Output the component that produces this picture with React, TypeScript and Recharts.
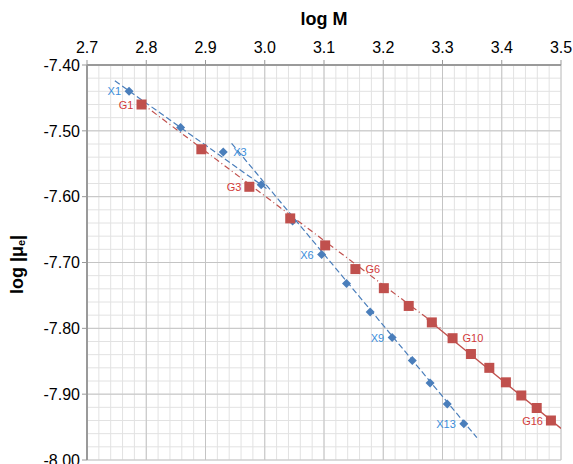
import React from "react"
import {
  ScatterChart,
  Scatter,
  XAxis,
  YAxis,
  CartesianGrid,
  LabelList,
} from "recharts"

// X series (blue diamonds): log M, log |mu_e|
const xSeriesM = [2.771, 2.858, 2.930, 2.994, 3.047, 3.096, 3.138, 3.178, 3.215, 3.249, 3.279, 3.308, 3.336]
const xSeriesMu = [-7.440, -7.495, -7.532, -7.582, -7.637, -7.688, -7.732, -7.775, -7.814, -7.849, -7.883, -7.915, -7.945]

// G series (red squares)
const gSeriesM = [2.792, 2.893, 2.974, 3.043, 3.102, 3.153, 3.201, 3.243, 3.282, 3.317, 3.348, 3.379, 3.407, 3.433, 3.459, 3.483]
const gSeriesMu = [-7.460, -7.528, -7.585, -7.633, -7.674, -7.710, -7.739, -7.766, -7.791, -7.815, -7.839, -7.860, -7.882, -7.902, -7.921, -7.940]

// fitted lines (end points)
const fitXLow = [{ x: 2.747, y: -7.424 }, { x: 3.005, y: -7.589 }]
const fitXHigh = [{ x: 2.944, y: -7.519 }, { x: 3.358, y: -7.966 }]
const fitGLow = [{ x: 2.792, y: -7.458 }, { x: 3.300, y: -7.802 }]
const fitGHigh = [{ x: 3.273, y: -7.785 }, { x: 3.500, y: -7.952 }]

// which points get a name, and on which side
const xLabels: Record<number, "left" | "right"> = { 0: "left", 2: "right", 5: "left", 8: "left", 12: "left" }
const gLabels: Record<number, "left" | "right"> = { 0: "left", 2: "left", 5: "right", 9: "right", 15: "left" }

const xTicks = [2.7, 2.8, 2.9, 3.0, 3.1, 3.2, 3.3, 3.4, 3.5]
const yTicks = [-8.0, -7.9, -7.8, -7.7, -7.6, -7.5, -7.4]
const xMinor = Array.from({ length: 41 }, (_, i) => 2.7 + i * 0.02)
const yMinor = Array.from({ length: 31 }, (_, i) => -8 + i * 0.02)

const BLUE = "#4a7ebb"
const RED = "#c0504d"
const BLUE_TEXT = "#3b8edb"
const RED_TEXT = "#d23a3a"
const FONT = "'Liberation Sans', Arial, sans-serif"

const xData = xSeriesM.map((m, i) => ({ x: m, y: xSeriesMu[i], name: `X${i + 1}` }))
const gData = gSeriesM.map((m, i) => ({ x: m, y: gSeriesMu[i], name: `G${i + 1}` }))

const Diamond = (props: any) => {
  const { cx, cy } = props
  const r = 4.5
  return <polygon points={`${cx},${cy - r} ${cx + r},${cy} ${cx},${cy + r} ${cx - r},${cy}`} fill={BLUE} />
}

const Square = (props: any) => {
  const { cx, cy } = props
  return <rect x={cx - 5} y={cy - 5} width={10} height={10} fill={RED} />
}

const NoDot = () => <g />

const makeLabel = (sides: Record<number, "left" | "right">, color: string, dy: number) => (props: any) => {
  const { x, y, width, height, value, index } = props
  const side = sides[index]
  if (!side) return null
  const cx = x + (width || 0) / 2
  const cy = y + (height || 0) / 2
  return (
    <text
      x={side === "left" ? cx - 8 : cx + 10}
      y={cy + dy}
      textAnchor={side === "left" ? "end" : "start"}
      dominantBaseline="central"
      fontSize={11}
      fontFamily={FONT}
      fill={color}
    >
      {value}
    </text>
  )
}

const gridX = (v: number[]) => ({ offset }: any) => v.map((t) => offset.left + ((t - 2.7) / 0.8) * offset.width)
const gridY = (v: number[]) => ({ offset }: any) => v.map((t) => offset.top + ((-7.4 - t) / 0.6) * offset.height)

const YTitle = (props: any) => {
  const { viewBox } = props
  const cy = viewBox.y + viewBox.height / 2 + 2
  const cx = 17
  return (
    <text
      x={cx}
      y={cy}
      transform={`rotate(-90, ${cx}, ${cy})`}
      textAnchor="middle"
      dominantBaseline="central"
      fontSize={18}
      fontWeight="bold"
      fontFamily={FONT}
      fill="#000"
    >
      log |μ
      <tspan fontSize={11} dy={4}>e</tspan>
      <tspan dy={-4}>|</tspan>
    </text>
  )
}

export default function App() {
  return (
    <div style={{ position: "absolute", left: 0, top: 0, width: 573, height: 464, overflow: "hidden", background: "#fff" }}>
      <ScatterChart width={573} height={480} margin={{ top: 35, right: 12, bottom: 20, left: 27 }}>
        <CartesianGrid
          stroke="#e2e2e2"
          verticalCoordinatesGenerator={gridX(xMinor)}
          horizontalCoordinatesGenerator={gridY(yMinor)}
        />
        <CartesianGrid
          stroke="#c4c4c4"
          verticalCoordinatesGenerator={gridX(xTicks)}
          horizontalCoordinatesGenerator={gridY(yTicks)}
        />
        <XAxis
          type="number"
          dataKey="x"
          orientation="top"
          domain={[2.7, 3.5]}
          ticks={xTicks}
          allowDataOverflow
          tickFormatter={(v: number) => v.toFixed(1)}
          tick={{ fontSize: 16, fill: "#000", fontFamily: FONT }}
          tickLine={{ stroke: "#999" }}
          axisLine={{ stroke: "#9a9a9a", strokeWidth: 2 }}
          tickSize={5}
          tickMargin={7}
          height={30}
          label={{
            value: "log M",
            position: "top",
            offset: 10,
            style: { fontSize: 18, fontWeight: "bold", fill: "#000", fontFamily: FONT },
          }}
        />
        <YAxis
          type="number"
          dataKey="y"
          domain={[-8, -7.4]}
          ticks={yTicks}
          allowDataOverflow
          tickFormatter={(v: number) => v.toFixed(2)}
          tick={{ fontSize: 16, fill: "#000", fontFamily: FONT }}
          tickLine={{ stroke: "#999" }}
          axisLine={{ stroke: "#9a9a9a", strokeWidth: 2 }}
          tickSize={5}
          tickMargin={2}
          width={60}
          label={<YTitle />}
        />
        <Scatter data={fitXLow} line={{ stroke: BLUE, strokeWidth: 1.2, strokeDasharray: "6 3" }} shape={NoDot} isAnimationActive={false} />
        <Scatter data={fitXHigh} line={{ stroke: BLUE, strokeWidth: 1.2, strokeDasharray: "6 3" }} shape={NoDot} isAnimationActive={false} />
        <Scatter data={fitGLow} line={{ stroke: RED, strokeWidth: 1.2, strokeDasharray: "6 3 1 3" }} shape={NoDot} isAnimationActive={false} />
        <Scatter data={fitGHigh} line={{ stroke: RED, strokeWidth: 1.3 }} shape={NoDot} isAnimationActive={false} />
        <Scatter data={xData} shape={Diamond} isAnimationActive={false}>
          <LabelList dataKey="name" content={makeLabel(xLabels, BLUE_TEXT, 0)} />
        </Scatter>
        <Scatter data={gData} shape={Square} isAnimationActive={false}>
          <LabelList dataKey="name" content={makeLabel(gLabels, RED_TEXT, 0)} />
        </Scatter>
      </ScatterChart>
    </div>
  )
}
